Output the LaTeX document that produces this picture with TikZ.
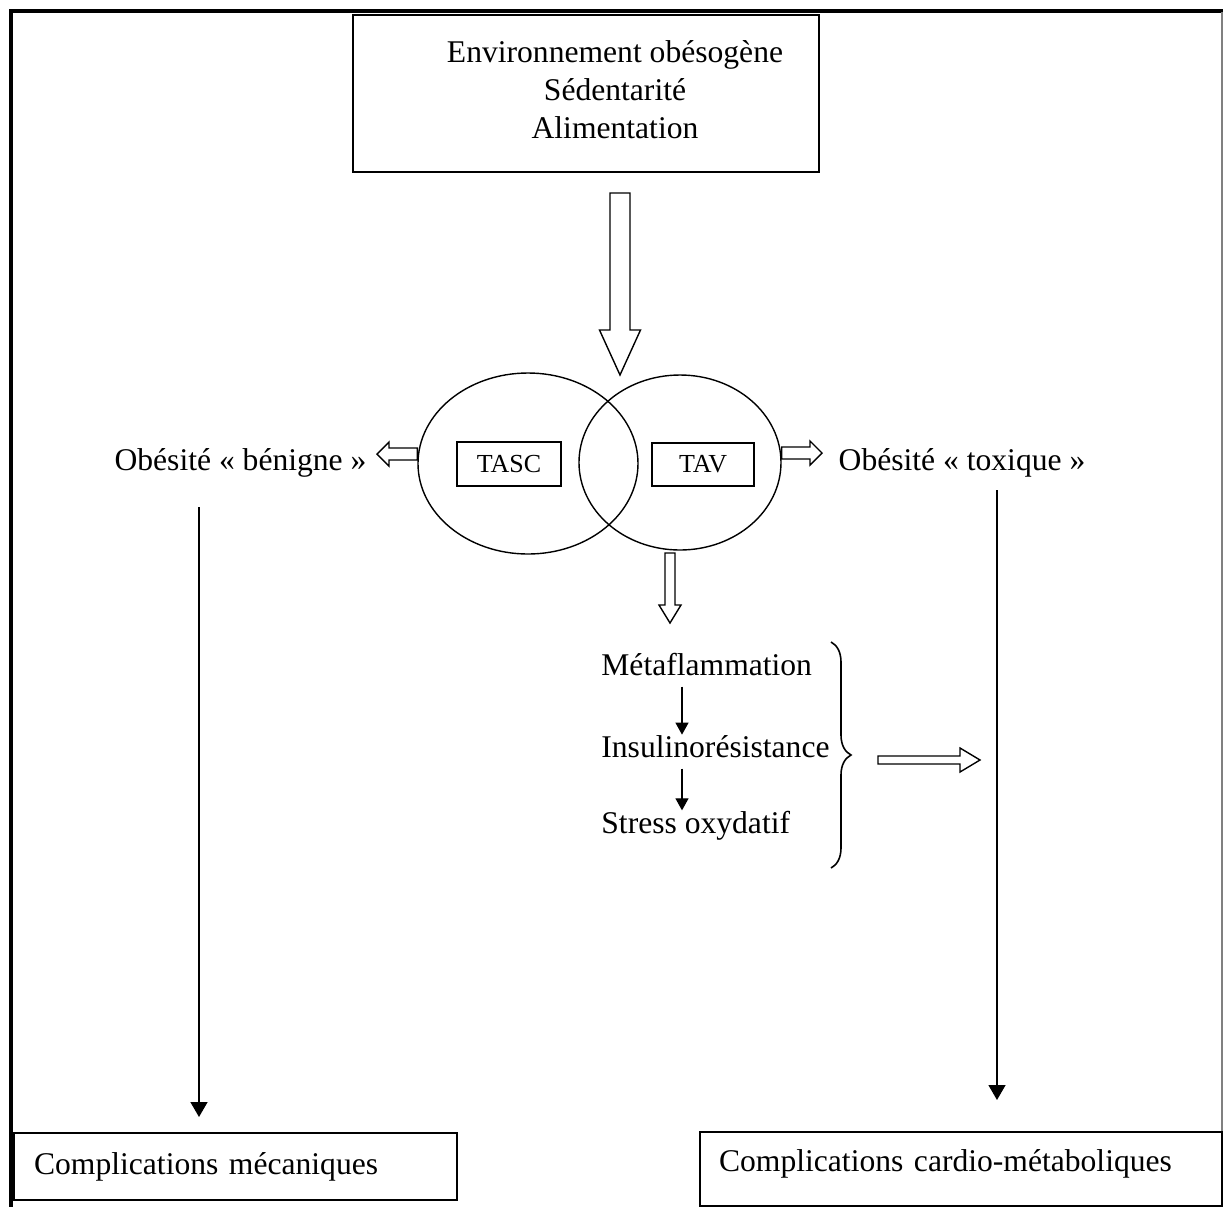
\documentclass[tikz,border=0pt]{standalone}
\usepackage{fontspec}
\setmainfont{Liberation Serif}
\usetikzlibrary{shapes.geometric,calc,arrows.meta,decorations.pathreplacing}
\tikzset{
  txt/.style={font=\fontsize{15.8}{19}\selectfont, inner sep=0pt},
  box/.style={draw, rectangle, line width=1.1pt},
  tag/.style={draw, rectangle, line width=0.8pt, font=\fontsize{13}{15}\selectfont},
  blob/.style={draw, ellipse, line width=0.7pt, inner sep=0pt},
  fatline/.style={draw, fill=white, line width=0.7pt, line join=miter},
  longarrow/.style={line width=0.7pt, -{Triangle[length=7.5pt,width=8.5pt]}},
  smallarrow/.style={line width=0.6pt, -{Triangle[length=6pt,width=6.5pt]}, shorten <=5.5pt},
  frame/.style={line width=2pt}
}
\newcommand{\fatarrow}[5]{%
  \coordinate (fahead) at ($(#2)!#5!(#1)$);
  \draw[fatline] ($(#1)!#3!90:(#2)$) -- ($(fahead)!#3!90:(#2)$) -- ($(fahead)!#4!90:(#2)$)
    -- (#2) -- ($(fahead)!#4!-90:(#2)$) -- ($(fahead)!#3!-90:(#2)$) -- ($(#1)!#3!-90:(#2)$) -- cycle;}
\begin{document}
\begin{tikzpicture}[x=0.5pt,y=-0.5pt]
  \useasboundingbox (0,0) rectangle (1223,1207);
  \draw[frame] (9,11) -- (1223,11);
  \draw[frame] (11,9) -- (11,1207);
  \draw[line width=0.6pt, gray] (1222,12) -- (1222,1131);

  \node[box, minimum width=233pt, minimum height=78.5pt] (envbox) at (586,93.5) {};
  \node[txt, align=center] (env) at (615,90) {Environnement obésogène\\Sédentarité\\Alimentation};

  \node[blob, minimum width=110pt, minimum height=90.5pt] (lell) at (528,463.5) {};
  \node[blob, minimum width=101pt, minimum height=87.5pt] (rell) at (680,462.5) {};
  \node[tag, minimum width=52pt, minimum height=22pt] (tasc) at (509,464) {TASC};
  \node[tag, minimum width=51pt, minimum height=21.5pt] (tav) at (703,464.5) {TAV};

  \node[txt] (benigne) at (240.5,463) {Obésité « bénigne »};
  \node[txt] (toxique) at (962,463) {Obésité « toxique »};

  \node[txt, anchor=base west] (meta) at (601,675) {Métaflammation};
  \node[txt, anchor=base west] (insu) at (601,757) {Insulinorésistance};
  \node[txt, anchor=base west] (stress) at (601,833) {Stress oxydatif};

  \node[box, txt, anchor=north west, inner xsep=10pt, minimum width=221.5pt, minimum height=33.5pt,
    text width=201.5pt, align=left] (meca) at (13,1132) {Complications mécaniques};
  \node[box, txt, anchor=north west, inner xsep=9.5pt, minimum width=261pt, minimum height=37pt,
    text width=242pt, align=left] (cardio) at (699,1131) {Complications cardio-métaboliques\vspace{5pt}};

  \coordinate (top) at (620,193);
  \coordinate (meet) at (620,375);
  \fatarrow{top}{meet}{5pt}{10.25pt}{22.5pt}
  \coordinate (lout) at ([yshift=4.75pt]lell.west);
  \coordinate (ltip) at (377,454);
  \fatarrow{lout}{ltip}{3pt}{6pt}{6pt}
  \coordinate (rout) at ([yshift=4.75pt]rell.east);
  \coordinate (rtip) at (822,453);
  \fatarrow{rout}{rtip}{3pt}{6pt}{6pt}
  \coordinate (dout) at (670,553);
  \coordinate (dtip) at (670,623);
  \fatarrow{dout}{dtip}{2.5pt}{5.5pt}{9pt}

  \draw[decorate, decoration={brace, amplitude=10pt}, line width=0.8pt] (831,642) -- (831,868);
  \coordinate (bout) at (878,760);
  \coordinate (btip) at (980,760);
  \fatarrow{bout}{btip}{2pt}{6pt}{10pt}

  \coordinate (ax) at (682,0);
  \draw[smallarrow] (meta.south -| ax) -- (insu.north -| ax);
  \draw[smallarrow] (insu.south -| ax) -- (stress.north -| ax);

  \coordinate (bstart) at (199,507);
  \draw[longarrow, shorten >=7.5pt] (bstart) -- (bstart |- meca.north);
  \coordinate (tstart) at (997,490);
  \draw[longarrow, shorten >=15.5pt] (tstart) -- (tstart |- cardio.north);
\end{tikzpicture}
\end{document}
